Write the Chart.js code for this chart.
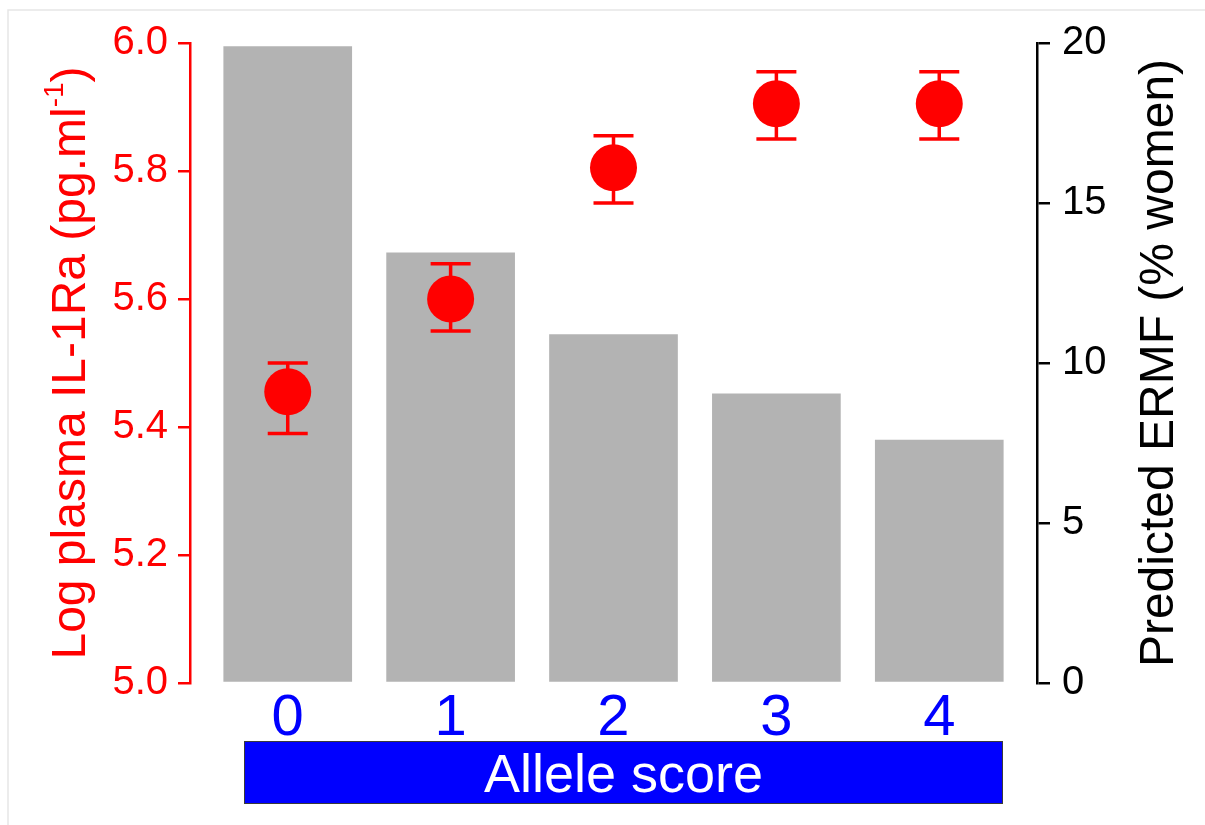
<!DOCTYPE html>
<html>
<head>
<meta charset="utf-8">
<script src="https://cdn.jsdelivr.net/npm/chart.js@4"></script>
<style>
  html, body { margin: 0; padding: 0; background: #ffffff; }
  #wrap { position: relative; width: 1205px; height: 825px; }
  canvas { display: block; }
</style>
</head>
<body>
<div id="wrap"><canvas id="c" width="1205" height="825"></canvas></div>
<script>
// Allele score groups (x categories)
const alleleScores = [0, 1, 2, 3, 4];
// Predicted ERMF share, % of women (bars, right axis)
const ermfPercent = [19.9, 13.45, 10.9, 9.05, 7.6];
// Log plasma IL-1Ra: mean and error-bar limits (points, left axis)
const il1raMean = [5.455, 5.60, 5.805, 5.905, 5.905];
const il1raUpper = [5.50, 5.655, 5.855, 5.955, 5.955];
const il1raLower = [5.39, 5.55, 5.75, 5.85, 5.85];
// Tick values
const il1raTicks = [5.0, 5.2, 5.4, 5.6, 5.8, 6.0];
const ermfTicks = [0, 5, 10, 15, 20];

const FONT = "'Liberation Sans', Arial, Helvetica, sans-serif";
const RED = '#ff0000';

// Error bars for the IL-1Ra points, drawn just beneath the markers
const errorBars = {
  id: 'errorBars',
  beforeDatasetDraw(chart, args) {
    if (args.index !== 0) return;
    const ctx = chart.ctx;
    const xs = chart.scales.x, ys = chart.scales.y;
    const cap = 20;
    ctx.save();
    ctx.strokeStyle = RED;
    ctx.lineWidth = 3.5;
    alleleScores.forEach((s, i) => {
      const px = xs.getPixelForValue(s);
      const top = ys.getPixelForValue(il1raUpper[i]);
      const bot = ys.getPixelForValue(il1raLower[i]);
      ctx.beginPath();
      ctx.moveTo(px, top); ctx.lineTo(px, bot);
      ctx.moveTo(px - cap, top); ctx.lineTo(px + cap, top);
      ctx.moveTo(px - cap, bot); ctx.lineTo(px + cap, bot);
      ctx.stroke();
    });
    ctx.restore();
  }
};

// Frame, axis titles and the "Allele score" banner
const decorations = {
  id: 'decorations',
  beforeDraw(chart) {
    const ctx = chart.ctx;
    ctx.save();
    ctx.fillStyle = '#ffffff';
    ctx.fillRect(0, 0, chart.width, chart.height);
    ctx.strokeStyle = '#e6e6e6';
    ctx.lineWidth = 1.5;
    ctx.beginPath();
    ctx.moveTo(8, chart.height); ctx.lineTo(8, 10); ctx.lineTo(chart.width, 10);
    ctx.stroke();
    ctx.restore();
  },
  afterDraw(chart) {
    const ctx = chart.ctx;
    const area = chart.chartArea;
    const midY = (area.top + area.bottom) / 2;

    // Left axis title with superscript unit
    ctx.save();
    ctx.translate(85, midY);
    ctx.rotate(-Math.PI / 2);
    ctx.fillStyle = RED;
    ctx.textBaseline = 'alphabetic';
    ctx.textAlign = 'left';
    const mainFont = '48px ' + FONT;
    const supFont = '28px ' + FONT;
    const mainText = 'Log plasma IL-1Ra (pg.ml';
    const supText = '-1';
    const closeText = ')';
    ctx.font = mainFont;
    const w1 = ctx.measureText(mainText).width;
    const w3 = ctx.measureText(closeText).width;
    ctx.font = supFont;
    const w2 = ctx.measureText(supText).width;
    let x0 = -(w1 + w2 + w3) / 2;
    ctx.font = mainFont;
    ctx.fillText(mainText, x0, 0);
    ctx.font = supFont;
    ctx.fillText(supText, x0 + w1, -22);
    ctx.font = mainFont;
    ctx.fillText(closeText, x0 + w1 + w2, 0);
    ctx.restore();

    // Right axis title
    ctx.save();
    ctx.translate(1173, midY);
    ctx.rotate(-Math.PI / 2);
    ctx.fillStyle = '#000000';
    ctx.font = '48px ' + FONT;
    ctx.textAlign = 'center';
    ctx.textBaseline = 'alphabetic';
    ctx.fillText('Predicted ERMF (% women)', 0, 0);
    ctx.restore();

    // x-axis title banner
    ctx.save();
    ctx.fillStyle = '#0000ff';
    ctx.fillRect(244.5, 741, 758, 63);
    ctx.strokeStyle = '#3a3a3a';
    ctx.lineWidth = 1;
    ctx.strokeRect(244.5, 741.5, 758, 62);
    ctx.fillStyle = '#ffffff';
    ctx.font = '54px ' + FONT;
    ctx.textAlign = 'center';
    ctx.textBaseline = 'alphabetic';
    ctx.fillText('Allele score', 623.5, 791.5);
    ctx.restore();
  }
};

new Chart(document.getElementById('c'), {
  data: {
    datasets: [
      {
        type: 'scatter',
        label: 'Log plasma IL-1Ra',
        data: alleleScores.map((s, i) => ({ x: s, y: il1raMean[i] })),
        xAxisID: 'x',
        yAxisID: 'y',
        backgroundColor: RED,
        borderColor: RED,
        borderWidth: 0,
        pointRadius: 23.5,
        pointHoverRadius: 23.5
      },
      {
        type: 'bar',
        label: 'Predicted ERMF',
        data: alleleScores.map((s, i) => ({ x: s, y: ermfPercent[i] })),
        xAxisID: 'x',
        yAxisID: 'y1',
        backgroundColor: '#b3b3b3',
        borderWidth: 0,
        barPercentage: 0.79,
        categoryPercentage: 1.0
      }
    ]
  },
  options: {
    responsive: false,
    animation: false,
    events: [],
    layout: { padding: { top: 43, left: 0, right: 0, bottom: 0 } },
    plugins: {
      legend: { display: false },
      tooltip: { enabled: false },
      title: { display: false }
    },
    scales: {
      x: {
        type: 'linear',
        position: 'bottom',
        offset: false,
        min: -0.6,
        max: 4.6,
        afterBuildTicks(scale) { scale.ticks = alleleScores.map(v => ({ value: v })); },
        afterFit(scale) { scale.height = 142; },
        grid: { display: false, drawTicks: false, offset: false },
        border: { display: false },
        ticks: {
          color: '#0000ff',
          font: { family: FONT, size: 58 },
          padding: 1,
          maxRotation: 0,
          autoSkip: false,
          callback: v => String(v)
        }
      },
      y: {
        type: 'linear',
        position: 'left',
        min: 5.0,
        max: 6.0,
        afterBuildTicks(scale) { scale.ticks = il1raTicks.map(v => ({ value: v })); },
        afterFit(scale) { scale.width = 190; },
        grid: { drawOnChartArea: false, drawTicks: true, tickLength: 12, color: RED, lineWidth: 2.5 },
        border: { display: true, color: RED, width: 2.5 },
        ticks: {
          color: RED,
          font: { family: FONT, size: 40 },
          padding: 10,
          autoSkip: false,
          callback: v => Number(v).toFixed(1)
        }
      },
      y1: {
        type: 'linear',
        position: 'right',
        min: 0,
        max: 20,
        afterBuildTicks(scale) { scale.ticks = ermfTicks.map(v => ({ value: v })); },
        afterFit(scale) { scale.width = 1205 - 1037; },
        grid: { drawOnChartArea: false, drawTicks: true, tickLength: 13, color: '#000000', lineWidth: 2.5 },
        border: { display: true, color: '#000000', width: 2.5 },
        ticks: {
          color: '#000000',
          font: { family: FONT, size: 40 },
          padding: 12,
          autoSkip: false,
          callback: v => String(v)
        }
      }
    }
  },
  plugins: [decorations, errorBars]
});
</script>
</body>
</html>
